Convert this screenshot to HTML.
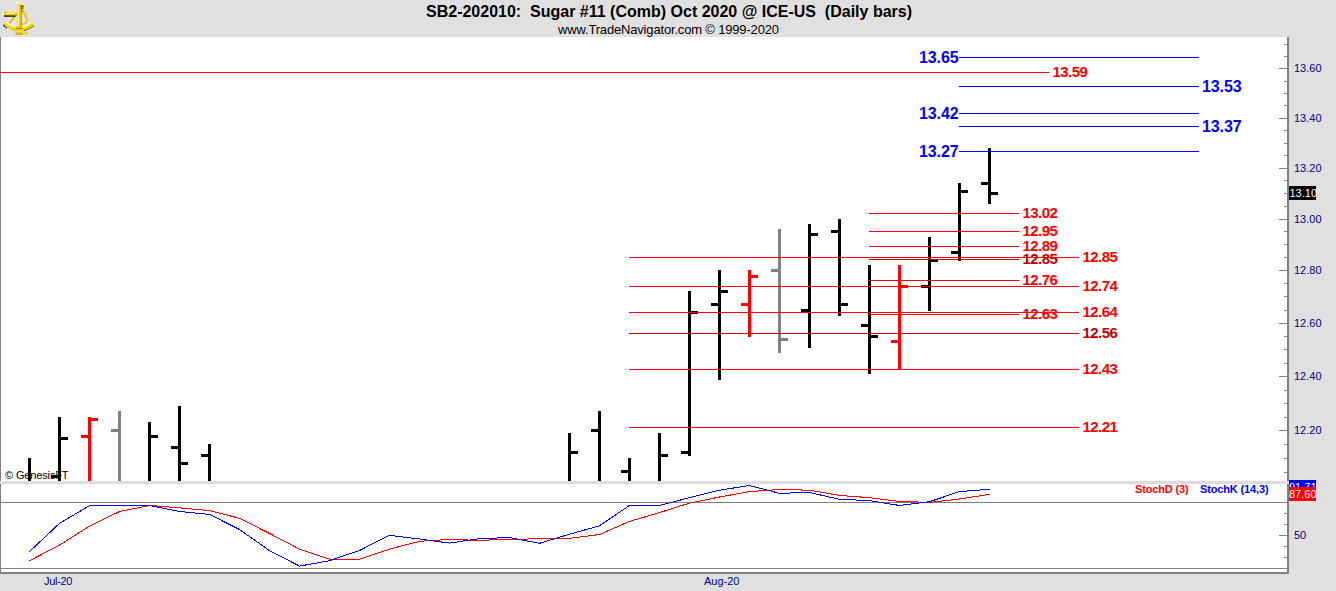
<!DOCTYPE html>
<html><head><meta charset="utf-8"><title>SB2-202010 Sugar #11</title>
<style>
html,body{margin:0;padding:0;background:#e0e0e0;}
body{width:1336px;height:591px;overflow:hidden;}
svg{display:block;}
text{font-family:"Liberation Sans",sans-serif;white-space:pre;}
</style></head><body>
<svg width="1336" height="591" viewBox="0 0 1336 591">
<rect x="0" y="0" width="1336" height="591" fill="#e0e0e0"/>

<rect x="1" y="37" width="1286" height="444" fill="#fff" shape-rendering="crispEdges"/>
<rect x="1" y="484" width="1286" height="88" fill="#fff" shape-rendering="crispEdges"/>
<rect x="0" y="37" width="1" height="444" fill="#808080" shape-rendering="crispEdges"/>
<rect x="0" y="484" width="1" height="90" fill="#808080" shape-rendering="crispEdges"/>
<rect x="0" y="481" width="1289" height="3" fill="#dcdcdc" shape-rendering="crispEdges"/>
<rect x="0" y="572" width="1289" height="2" fill="#808080" shape-rendering="crispEdges"/>
<rect x="1287" y="37" width="2" height="537" fill="#808080" shape-rendering="crispEdges"/>
<rect x="1284" y="472" width="3" height="1" fill="#808080" shape-rendering="crispEdges"/>
<rect x="1284" y="458" width="3" height="1" fill="#808080" shape-rendering="crispEdges"/>
<rect x="1284" y="444" width="3" height="1" fill="#808080" shape-rendering="crispEdges"/>
<rect x="1279" y="430" width="8" height="1" fill="#808080" shape-rendering="crispEdges"/>
<rect x="1284" y="417" width="3" height="1" fill="#808080" shape-rendering="crispEdges"/>
<rect x="1284" y="403" width="3" height="1" fill="#808080" shape-rendering="crispEdges"/>
<rect x="1284" y="390" width="3" height="1" fill="#808080" shape-rendering="crispEdges"/>
<rect x="1279" y="376" width="8" height="1" fill="#808080" shape-rendering="crispEdges"/>
<rect x="1284" y="363" width="3" height="1" fill="#808080" shape-rendering="crispEdges"/>
<rect x="1284" y="349" width="3" height="1" fill="#808080" shape-rendering="crispEdges"/>
<rect x="1284" y="336" width="3" height="1" fill="#808080" shape-rendering="crispEdges"/>
<rect x="1279" y="323" width="8" height="1" fill="#808080" shape-rendering="crispEdges"/>
<rect x="1284" y="310" width="3" height="1" fill="#808080" shape-rendering="crispEdges"/>
<rect x="1284" y="296" width="3" height="1" fill="#808080" shape-rendering="crispEdges"/>
<rect x="1284" y="283" width="3" height="1" fill="#808080" shape-rendering="crispEdges"/>
<rect x="1279" y="270" width="8" height="1" fill="#808080" shape-rendering="crispEdges"/>
<rect x="1284" y="257" width="3" height="1" fill="#808080" shape-rendering="crispEdges"/>
<rect x="1284" y="244" width="3" height="1" fill="#808080" shape-rendering="crispEdges"/>
<rect x="1284" y="231" width="3" height="1" fill="#808080" shape-rendering="crispEdges"/>
<rect x="1279" y="219" width="8" height="1" fill="#808080" shape-rendering="crispEdges"/>
<rect x="1284" y="206" width="3" height="1" fill="#808080" shape-rendering="crispEdges"/>
<rect x="1284" y="193" width="3" height="1" fill="#808080" shape-rendering="crispEdges"/>
<rect x="1284" y="180" width="3" height="1" fill="#808080" shape-rendering="crispEdges"/>
<rect x="1279" y="168" width="8" height="1" fill="#808080" shape-rendering="crispEdges"/>
<rect x="1284" y="155" width="3" height="1" fill="#808080" shape-rendering="crispEdges"/>
<rect x="1284" y="143" width="3" height="1" fill="#808080" shape-rendering="crispEdges"/>
<rect x="1284" y="130" width="3" height="1" fill="#808080" shape-rendering="crispEdges"/>
<rect x="1279" y="118" width="8" height="1" fill="#808080" shape-rendering="crispEdges"/>
<rect x="1284" y="105" width="3" height="1" fill="#808080" shape-rendering="crispEdges"/>
<rect x="1284" y="93" width="3" height="1" fill="#808080" shape-rendering="crispEdges"/>
<rect x="1284" y="81" width="3" height="1" fill="#808080" shape-rendering="crispEdges"/>
<rect x="1279" y="68" width="8" height="1" fill="#808080" shape-rendering="crispEdges"/>
<rect x="1284" y="56" width="3" height="1" fill="#808080" shape-rendering="crispEdges"/>
<rect x="1284" y="44" width="3" height="1" fill="#808080" shape-rendering="crispEdges"/>
<rect x="1284" y="513" width="3" height="1" fill="#808080" shape-rendering="crispEdges"/>
<rect x="1284" y="524" width="3" height="1" fill="#808080" shape-rendering="crispEdges"/>
<rect x="1279" y="535" width="8" height="1" fill="#808080" shape-rendering="crispEdges"/>
<rect x="1284" y="546" width="3" height="1" fill="#808080" shape-rendering="crispEdges"/>
<rect x="1284" y="557" width="3" height="1" fill="#808080" shape-rendering="crispEdges"/>
<rect x="1" y="502" width="1286" height="1" fill="#808080" shape-rendering="crispEdges"/>
<rect x="1" y="568" width="1286" height="1" fill="#808080" shape-rendering="crispEdges"/>
<text x="5" y="479" font-size="11" fill="#000" letter-spacing="-0.14">© GenesisFT</text>
<g shape-rendering="crispEdges">
<rect x="28" y="458" width="3" height="23" fill="#000"/>
<rect x="58" y="417" width="3" height="64" fill="#000"/>
<rect x="51" y="475" width="7" height="3" fill="#000"/>
<rect x="61" y="437" width="7" height="3" fill="#000"/>
<rect x="88" y="417" width="3" height="64" fill="#ff0000"/>
<rect x="81" y="435" width="7" height="3" fill="#ff0000"/>
<rect x="91" y="418" width="7" height="3" fill="#ff0000"/>
<rect x="118" y="411" width="3" height="70" fill="#808080"/>
<rect x="111" y="429" width="7" height="3" fill="#808080"/>
<rect x="148" y="422" width="3" height="59" fill="#000"/>
<rect x="151" y="435" width="7" height="3" fill="#000"/>
<rect x="178" y="406" width="3" height="75" fill="#000"/>
<rect x="171" y="446" width="7" height="3" fill="#000"/>
<rect x="181" y="462" width="7" height="3" fill="#000"/>
<rect x="208" y="444" width="3" height="37" fill="#000"/>
<rect x="201" y="454" width="7" height="3" fill="#000"/>
<rect x="568" y="433" width="3" height="48" fill="#000"/>
<rect x="571" y="451" width="7" height="3" fill="#000"/>
<rect x="598" y="411" width="3" height="70" fill="#000"/>
<rect x="591" y="429" width="7" height="3" fill="#000"/>
<rect x="628" y="458" width="3" height="23" fill="#000"/>
<rect x="621" y="470" width="7" height="3" fill="#000"/>
<rect x="658" y="433" width="3" height="48" fill="#000"/>
<rect x="661" y="454" width="7" height="3" fill="#000"/>
<rect x="688" y="291" width="3" height="165" fill="#000"/>
<rect x="681" y="451" width="7" height="3" fill="#000"/>
<rect x="691" y="311" width="7" height="3" fill="#000"/>
<rect x="718" y="270" width="3" height="110" fill="#000"/>
<rect x="711" y="303" width="7" height="3" fill="#000"/>
<rect x="721" y="290" width="7" height="3" fill="#000"/>
<rect x="748" y="270" width="3" height="67" fill="#ff0000"/>
<rect x="741" y="303" width="7" height="3" fill="#ff0000"/>
<rect x="751" y="275" width="7" height="3" fill="#ff0000"/>
<rect x="778" y="229" width="3" height="124" fill="#808080"/>
<rect x="771" y="269" width="7" height="3" fill="#808080"/>
<rect x="781" y="338" width="7" height="3" fill="#808080"/>
<rect x="808" y="224" width="3" height="124" fill="#000"/>
<rect x="801" y="309" width="7" height="3" fill="#000"/>
<rect x="811" y="233" width="7" height="3" fill="#000"/>
<rect x="838" y="219" width="3" height="97" fill="#000"/>
<rect x="831" y="230" width="7" height="3" fill="#000"/>
<rect x="841" y="303" width="7" height="3" fill="#000"/>
<rect x="868" y="265" width="3" height="109" fill="#000"/>
<rect x="861" y="324" width="7" height="3" fill="#000"/>
<rect x="871" y="335" width="7" height="3" fill="#000"/>
<rect x="898" y="265" width="3" height="105" fill="#ff0000"/>
<rect x="891" y="340" width="7" height="3" fill="#ff0000"/>
<rect x="901" y="285" width="7" height="3" fill="#ff0000"/>
<rect x="928" y="237" width="3" height="74" fill="#000"/>
<rect x="921" y="285" width="7" height="3" fill="#000"/>
<rect x="931" y="259" width="7" height="3" fill="#000"/>
<rect x="958" y="183" width="3" height="78" fill="#000"/>
<rect x="951" y="251" width="7" height="3" fill="#000"/>
<rect x="961" y="190" width="7" height="3" fill="#000"/>
<rect x="988" y="148" width="3" height="56" fill="#000"/>
<rect x="981" y="182" width="7" height="3" fill="#000"/>
<rect x="991" y="192" width="7" height="3" fill="#000"/>
</g>
<g shape-rendering="crispEdges">
<rect x="0" y="72" width="1049" height="1" fill="#ff0000" shape-rendering="crispEdges"/>
<rect x="959" y="57" width="240" height="1" fill="#0000ff" shape-rendering="crispEdges"/>
<rect x="959" y="86" width="240" height="1" fill="#0000ff" shape-rendering="crispEdges"/>
<rect x="959" y="113" width="240" height="1" fill="#0000ff" shape-rendering="crispEdges"/>
<rect x="959" y="126" width="240" height="1" fill="#0000ff" shape-rendering="crispEdges"/>
<rect x="959" y="151" width="240" height="1" fill="#0000ff" shape-rendering="crispEdges"/>
</g>
<text x="919" y="63" font-size="16" font-weight="bold" fill="#0000ff" letter-spacing="-0.12">13.65</text>
<text x="919" y="119" font-size="16" font-weight="bold" fill="#0000ff" letter-spacing="-0.12">13.42</text>
<text x="919" y="157" font-size="16" font-weight="bold" fill="#0000ff" letter-spacing="-0.12">13.27</text>
<text x="1202" y="92" font-size="16" font-weight="bold" fill="#0000ff" letter-spacing="-0.12">13.53</text>
<text x="1202" y="132" font-size="16" font-weight="bold" fill="#0000ff" letter-spacing="-0.12">13.37</text>
<text x="1052.4" y="77" font-size="15" font-weight="bold" fill="#ff0000" letter-spacing="-0.5">13.59</text>
<text x="1022.4" y="218" font-size="15" font-weight="bold" fill="#ff0000" letter-spacing="-0.5">13.02</text>
<text x="1022.4" y="236" font-size="15" font-weight="bold" fill="#ff0000" letter-spacing="-0.5">12.95</text>
<text x="1022.4" y="251" font-size="15" font-weight="bold" fill="#ff0000" letter-spacing="-0.5">12.89</text>
<text x="1022.4" y="264" font-size="15" font-weight="bold" fill="#c00000" letter-spacing="-0.5">12.85</text>
<text x="1022.4" y="285" font-size="15" font-weight="bold" fill="#ff0000" letter-spacing="-0.5">12.76</text>
<text x="1022.4" y="319" font-size="15" font-weight="bold" fill="#ff0000" letter-spacing="-0.5">12.63</text>
<text x="1082.4" y="262" font-size="15" font-weight="bold" fill="#ff0000" letter-spacing="-0.5">12.85</text>
<text x="1082.4" y="291" font-size="15" font-weight="bold" fill="#ff0000" letter-spacing="-0.5">12.74</text>
<text x="1082.4" y="317" font-size="15" font-weight="bold" fill="#ff0000" letter-spacing="-0.5">12.64</text>
<text x="1082.4" y="338" font-size="15" font-weight="bold" fill="#c00000" letter-spacing="-0.5">12.56</text>
<text x="1082.4" y="374" font-size="15" font-weight="bold" fill="#ff0000" letter-spacing="-0.5">12.43</text>
<text x="1082.4" y="432" font-size="15" font-weight="bold" fill="#ff0000" letter-spacing="-0.5">12.21</text>
<g shape-rendering="crispEdges">
<rect x="869" y="213" width="150" height="1" fill="#ff0000" shape-rendering="crispEdges"/>
<rect x="869" y="231" width="150" height="1" fill="#ff0000" shape-rendering="crispEdges"/>
<rect x="869" y="246" width="150" height="1" fill="#ff0000" shape-rendering="crispEdges"/>
<rect x="869" y="259" width="150" height="1" fill="#c00000" shape-rendering="crispEdges"/>
<rect x="869" y="280" width="150" height="1" fill="#ff0000" shape-rendering="crispEdges"/>
<rect x="869" y="314" width="150" height="1" fill="#ff0000" shape-rendering="crispEdges"/>
<rect x="629" y="257" width="450" height="1" fill="#ff0000" shape-rendering="crispEdges"/>
<rect x="629" y="286" width="450" height="1" fill="#ff0000" shape-rendering="crispEdges"/>
<rect x="629" y="312" width="450" height="1" fill="#ff0000" shape-rendering="crispEdges"/>
<rect x="629" y="333" width="450" height="1" fill="#c00000" shape-rendering="crispEdges"/>
<rect x="629" y="369" width="450" height="1" fill="#ff0000" shape-rendering="crispEdges"/>
<rect x="629" y="427" width="450" height="1" fill="#ff0000" shape-rendering="crispEdges"/>
</g>
<polyline points="29.5,560.7 59.5,545.1 89.5,526.1 119.5,511.5 149.5,505.4 179.5,507.9 209.5,510.6 239.5,518.3 269.5,533.5 299.5,549.1 329.5,559.3 359.5,559.3 389.5,549.1 419.5,541.3 449.5,539.4 479.5,540.4 509.5,539.2 539.5,538.9 569.5,538.3 599.5,534.5 629.5,521.4 659.5,512.6 689.5,503.1 719.5,497 749.5,491.6 779.5,489.5 809.5,490.2 839.5,495.4 869.5,497.7 899.5,501.4 929.5,502.4 959.5,499 989.5,494.3" fill="none" stroke="#ff0000" stroke-width="1" shape-rendering="crispEdges"/>
<polyline points="29.5,551.6 59.5,523.4 89.5,505.6 119.5,505.6 149.5,505.6 179.5,511.5 209.5,514.4 239.5,529.5 269.5,550.6 299.5,566.1 329.5,560.7 359.5,550.5 389.5,535.3 419.5,539 449.5,543.1 479.5,538.6 509.5,537.6 539.5,543.3 569.5,534.2 599.5,525.8 629.5,505.4 659.5,505.4 689.5,497.7 719.5,490.2 749.5,485.5 779.5,493.3 809.5,492.5 839.5,499.3 869.5,500.6 899.5,505.5 929.5,501.7 959.5,491.6 989.5,489.3" fill="none" stroke="#0000ff" stroke-width="1" shape-rendering="crispEdges"/>
<rect x="0" y="481" width="1290" height="3" fill="#dcdcdc" shape-rendering="crispEdges"/>
<text x="1135" y="493" font-size="11" font-weight="bold" fill="#ff0000" letter-spacing="-0.14">StochD (3)</text>
<text x="1200" y="493" font-size="11" font-weight="bold" fill="#0000ff" letter-spacing="-0.14">StochK (14,3)</text>
<text x="1294" y="72" font-size="11" fill="#000080">13.60</text>
<text x="1294" y="122" font-size="11" fill="#000080">13.40</text>
<text x="1294" y="172" font-size="11" fill="#000080">13.20</text>
<text x="1294" y="223" font-size="11" fill="#000080">13.00</text>
<text x="1294" y="274" font-size="11" fill="#000080">12.80</text>
<text x="1294" y="327" font-size="11" fill="#000080">12.60</text>
<text x="1294" y="380" font-size="11" fill="#000080">12.40</text>
<text x="1294" y="434" font-size="11" fill="#000080">12.20</text>
<text x="1294" y="539" font-size="11" fill="#000080">50</text>
<rect x="1289" y="186" width="27" height="14" fill="#000" shape-rendering="crispEdges"/>
<text x="1289.5" y="197" font-size="11" fill="#fff">13.10</text>
<rect x="1289" y="480" width="27" height="14" fill="#0000ff" shape-rendering="crispEdges"/>
<text x="1289" y="491" font-size="11" fill="#fff">91.71</text>
<rect x="1289" y="487" width="27" height="14" fill="#ff0000" shape-rendering="crispEdges"/>
<text x="1289" y="498" font-size="11" fill="#fff">87.60</text>
<text x="44" y="585" font-size="11" fill="#000080" letter-spacing="-0.3">Jul-20</text>
<text x="704" y="585" font-size="11" fill="#000080">Aug-20</text>
<text x="426" y="17" font-size="16" font-weight="bold" fill="#000" xml:space="preserve">SB2-202010:  Sugar #11 (Comb) Oct 2020 @ ICE-US  (Daily bars)</text>
<text x="558" y="34" font-size="13" fill="#000" letter-spacing="-0.17">www.TradeNavigator.com © 1999-2020</text>
<g id="logo">
<g opacity="0.55" stroke="#ffffff" stroke-width="1.6" fill="#ffffff" stroke-linejoin="round">
<path d="M3.3,24.6 Q8,21.5 11,24 Q19,31 27,24 Q31,21.5 34.6,24.8 Q29,28 23,31 L22.5,34.6 L15.5,34.6 L15,31 Q8,29 3.3,24.6 Z"/>
<rect x="4" y="11.8" width="12" height="5"/>
<rect x="16.6" y="2.5" width="5" height="25"/>
</g>
<path d="M3.3,24.6 Q5,22.6 6,22.6 Q19,34 32,22.4 Q33.5,22.6 34.6,24.8 Q19,39.5 3.3,24.6 Z" fill="#ecd010"/>
<path d="M5.5,23.2 Q19,33 31.8,23.2" stroke="#fff27a" stroke-width="1" fill="none"/>
<path d="M3.3,24.8 Q5,27.5 7,28.3" stroke="#1a1400" stroke-width="1.2" fill="none"/>
<path d="M24,30.8 Q30,28.8 34,26" stroke="#7a6000" stroke-width="0.9" fill="none"/>
<path d="M15.2,16 L9,23.5" stroke="#d8b800" stroke-width="1.6" fill="none"/>
<path d="M16.5,21.5 Q21,25 25.5,23.5 Q27.5,22 26.5,20" stroke="#e0c000" stroke-width="1.4" fill="none"/>
<path d="M21.6,8.6 L27.6,19.6" stroke="#e6c800" stroke-width="2" fill="none"/>
<path d="M21.2,9.6 L22.6,12" stroke="#5a4400" stroke-width="0.7" fill="none"/>
<circle cx="25.3" cy="13.3" r="1.1" fill="#f2d820"/>
<circle cx="27.1" cy="17.6" r="1.1" fill="#f2d820"/>
<rect x="16.8" y="5.5" width="4.6" height="22" fill="#eccf10"/>
<rect x="17.6" y="6" width="1.4" height="21" fill="#fff48a"/>
<rect x="20.8" y="6" width="0.7" height="21" fill="#8a6c00"/>
<path d="M16.3,6.4 L17.6,3.8 Q19.5,2.2 21.4,3.6 L23.2,6.4 Z" fill="#f2d820"/><rect x="17.2" y="3.6" width="2.2" height="1" fill="#fff07a"/>
<rect x="20.5" y="5.6" width="3.2" height="1.1" fill="#2a2000"/>
<rect x="21" y="7.6" width="2.6" height="1" fill="#2a2000"/>
<path d="M15.3,26.5 L22.7,26.5 L22.8,34.5 L15.4,34.5 Z" fill="#e8c808"/>
<rect x="16.2" y="28" width="5.5" height="0.8" fill="#9a7a00"/>
<rect x="15.8" y="30.6" width="6.5" height="1" fill="#fff07a"/>
<rect x="15.4" y="33.8" width="7.4" height="0.8" fill="#a08000"/>
<rect x="22.5" y="32.8" width="3.5" height="1" fill="#e0c000"/>
<rect x="25.7" y="31.8" width="1.5" height="3.2" fill="#ecd020"/>
<rect x="4" y="11.8" width="11.6" height="5" rx="0.6" fill="#e8c800"/>
<rect x="4.2" y="12.6" width="11.2" height="1.5" fill="#fff486"/>
<rect x="4" y="15.4" width="11.6" height="1.4" fill="#2a2000"/>
<circle cx="5.2" cy="12.4" r="0.8" fill="#d0a800"/>
<rect x="15" y="13.5" width="2" height="2.5" fill="#c8a400"/>
</g>
</svg></body></html>
